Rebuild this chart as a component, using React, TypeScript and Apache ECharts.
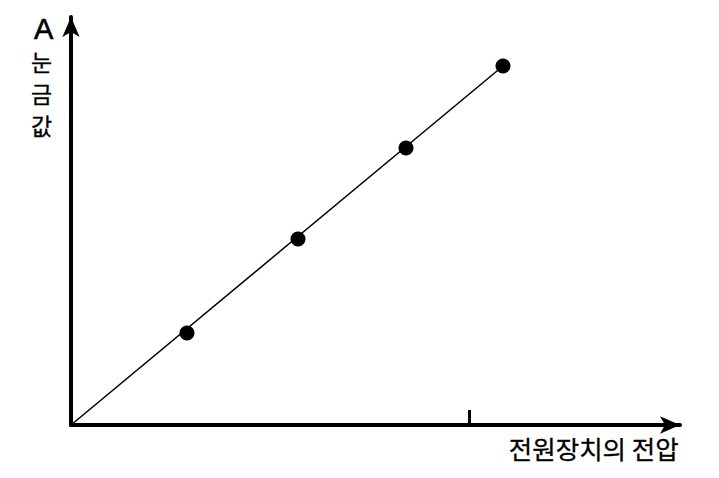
import React, { useEffect, useRef } from "react";
import * as echarts from "echarts";

const xValues = [11.6, 22.7, 33.5, 43.2];
const yValues = [9.2, 18.6, 27.7, 35.9];
const xTick = [39.8];
const xMax = 60.9;
const yMax = 40.8;
const xAxisTitle = "전원장치의 전압";
const yAxisUnit = "A";
const yAxisTitle = "눈금값";

export default function App() {
  const ref = useRef<HTMLDivElement>(null);
  useEffect(() => {
    if (!ref.current) return;
    const chart = echarts.init(ref.current, null, { renderer: "svg" });
    const points = xValues.map((x, i) => [x, yValues[i]]);
    const linePts = [[0, 0], points[points.length - 1]];
    const yText =
      `{a|${yAxisUnit}}\n` + yAxisTitle.split("").map((c) => `{k|${c}}`).join("\n");
    chart.setOption({
      animation: false,
      backgroundColor: "#ffffff",
      title: [
        {
          text: yText,
          left: 31,
          top: 13,
          padding: 0,
          textStyle: {
            color: "#000",
            fontWeight: "normal",
            rich: {
              a: {
                fontFamily: "Liberation Sans",
                fontSize: 29,
                fontWeight: "normal",
                lineHeight: 32,
                color: "#000",
                padding: [0, 0, 0, 3],
                textBorderColor: "#000",
                textBorderWidth: 0.6,
              },
              k: {
                fontFamily: "Noto Sans CJK KR",
                fontSize: 23,
                fontWeight: "normal",
                lineHeight: 32,
                color: "#000",
                textBorderColor: "#000",
                textBorderWidth: 0.3,
              },
            },
          },
        },
        {
          text: xAxisTitle,
          right: 40,
          top: 435,
          padding: 0,
          textStyle: { fontFamily: "Noto Sans CJK KR", fontSize: 25.5, fontWeight: "normal", color: "#000", textBorderColor: "#000", textBorderWidth: 0.3 },
        },
      ],
      grid: { left: 71, right: 39, top: 17, bottom: 53, containLabel: false },
      xAxis: {
        type: "value",
        min: 0,
        max: xMax,
        splitLine: { show: false },
        axisLabel: { show: false },
        axisLine: {
          show: true,
          symbol: ["none", "arrow"],
          symbolSize: [13, 20],
          lineStyle: { color: "#000", width: 4 },
        },
        axisTick: {
          show: true,
          inside: true,
          length: 15,
          customValues: xTick,
          lineStyle: { color: "#000", width: 3 },
        },
      },
      yAxis: {
        type: "value",
        min: 0,
        max: yMax,
        splitLine: { show: false },
        axisLabel: { show: false },
        axisTick: { show: false },
        axisLine: {
          show: true,
          symbol: ["none", "arrow"],
          symbolSize: [13, 20],
          lineStyle: { color: "#000", width: 4 },
        },
      },
      series: [
        {
          type: "line",
          data: linePts,
          showSymbol: false,
          lineStyle: { color: "#000", width: 1.5 },
          z: 2,
        },
        {
          type: "scatter",
          data: points,
          symbol: "circle",
          symbolSize: 15,
          itemStyle: { color: "#000", opacity: 1 },
          z: 3,
        },
      ],
    });
    return () => chart.dispose();
  }, []);
  return <div ref={ref} style={{ width: 719, height: 478, position: "fixed", left: 0, top: 0 }} />;
}
